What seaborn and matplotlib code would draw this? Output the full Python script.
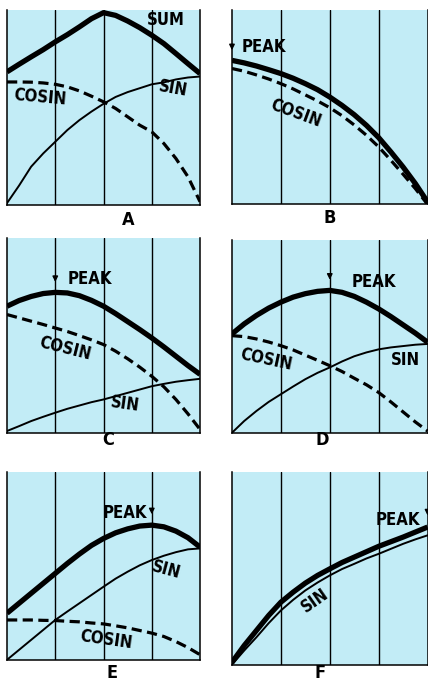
import numpy as np
import pandas as pd
import seaborn as sns
import matplotlib.pyplot as plt

# %%
# values, x in quarter-cycle grid units (0..4), y in panel height (0..1)
xs = [0, 0.25, 0.5, 0.75, 1, 1.25, 1.5, 1.75, 2, 2.25, 2.5, 2.75, 3, 3.25, 3.5, 3.75, 4]

a_sum = [0.684, 0.723, 0.761, 0.798, 0.838, 0.875, 0.915, 0.957, 0.988,
         0.974, 0.945, 0.911, 0.872, 0.829, 0.778, 0.726, 0.675]
a_cos = [0.632, 0.632, 0.631, 0.627, 0.62, 0.607, 0.586, 0.559, 0.53,
         0.496, 0.453, 0.41, 0.376, 0.316, 0.239, 0.145, 0.017]
a_sin = [0.01, 0.10, 0.197, 0.265, 0.325, 0.385, 0.436, 0.48, 0.52,
         0.555, 0.58, 0.60, 0.62, 0.63, 0.645, 0.655, 0.66]

b_sum = [0.742, 0.729, 0.713, 0.694, 0.674, 0.65, 0.622, 0.591, 0.553,
         0.51, 0.462, 0.407, 0.344, 0.27, 0.192, 0.107, 0.012]
b_cos = [0.70, 0.686, 0.667, 0.646, 0.622, 0.595, 0.564, 0.533, 0.498,
         0.457, 0.409, 0.356, 0.296, 0.227, 0.155, 0.081, 0.0]

c_sum = [0.65, 0.679, 0.70, 0.715, 0.721, 0.718, 0.704, 0.68, 0.65,
         0.612, 0.571, 0.53, 0.487, 0.441, 0.393, 0.345, 0.30]
c_cos = [0.607, 0.59, 0.573, 0.556, 0.538, 0.52, 0.499, 0.477, 0.453,
         0.419, 0.38, 0.337, 0.29, 0.236, 0.171, 0.097, 0.017]
c_sin = [0.009, 0.034, 0.06, 0.082, 0.103, 0.123, 0.14, 0.157, 0.171,
         0.188, 0.205, 0.222, 0.239, 0.251, 0.262, 0.27, 0.277]

d_sum = [0.513, 0.565, 0.609, 0.647, 0.678, 0.704, 0.722, 0.734, 0.739,
         0.729, 0.708, 0.678, 0.643, 0.603, 0.56, 0.517, 0.47]
d_cos = [0.504, 0.499, 0.487, 0.471, 0.452, 0.43, 0.403, 0.376, 0.348,
         0.318, 0.283, 0.249, 0.209, 0.16, 0.108, 0.056, 0.009]
d_sin = [0.0, 0.061, 0.113, 0.16, 0.2, 0.24, 0.278, 0.311, 0.339,
         0.37, 0.397, 0.417, 0.433, 0.443, 0.45, 0.457, 0.461]

e_sum = [0.248, 0.301, 0.354, 0.407, 0.46, 0.513, 0.563, 0.609, 0.646,
         0.676, 0.697, 0.712, 0.717, 0.708, 0.685, 0.65, 0.60]
e_sin = [0.0, 0.053, 0.106, 0.159, 0.212, 0.257, 0.301, 0.345, 0.389,
         0.432, 0.469, 0.503, 0.531, 0.554, 0.573, 0.588, 0.593]
e_cos = [0.212, 0.212, 0.212, 0.21, 0.209, 0.205, 0.202, 0.196, 0.191,
         0.181, 0.17, 0.156, 0.142, 0.124, 0.097, 0.065, 0.027]

f_sum = [0.012, 0.099, 0.177, 0.255, 0.324, 0.376, 0.423, 0.463, 0.497,
         0.53, 0.558, 0.586, 0.614, 0.638, 0.662, 0.688, 0.714]
f_sin = [0.0, 0.073, 0.142, 0.215, 0.281, 0.336, 0.385, 0.426, 0.463,
         0.496, 0.523, 0.551, 0.575, 0.601, 0.627, 0.65, 0.671]

panel_names = ['A', 'B', 'C', 'D', 'E', 'F']

# %%
sns.set_style('white')
plt.rcParams['font.family'] = ['DejaVu Sans']
plt.rcParams['font.stretch'] = 'condensed'
plt.rcParams['font.weight'] = 'bold'
plt.rcParams['font.style'] = 'normal'
plt.rcParams['text.color'] = 'black'

bg = '#c2ecf6'
fig = plt.figure(figsize=(4.28, 6.88), dpi=100)

# left, bottom, width, height in figure fractions
boxes = [
    [0.0164, 0.702, 0.451, 0.283],
    [0.542, 0.703, 0.457, 0.282],
    [0.0164, 0.371, 0.451, 0.283],
    [0.542, 0.371, 0.457, 0.280],
    [0.0164, 0.041, 0.451, 0.273],
    [0.542, 0.034, 0.457, 0.280],
]
label_pos = [(0.30, 0.680), (0.771, 0.683), (0.252, 0.360), (0.752, 0.360),
             (0.262, 0.022), (0.747, 0.022)]

axes = [fig.add_axes(b) for b in boxes]

thick = dict(color='black', lw=3.8, solid_capstyle='butt')
thin = dict(color='black', lw=1.4)
dash = dict(color='black', lw=2.3, linestyle=(0, (3.2, 1.7)))
fs = 12

def frame(ax):
    ax.set_facecolor(bg)
    ax.set_xlim(0, 4)
    ax.set_ylim(0, 1)
    for gx in [1, 2, 3]:
        ax.axvline(gx, color='black', lw=1.0, zorder=1)
    ax.set_xticks([])
    ax.set_yticks([])
    ax.set_xlabel('')
    ax.set_ylabel('')
    ax.spines['top'].set_visible(False)
    for s in ['left', 'right', 'bottom']:
        ax.spines[s].set_color('black')
        ax.spines[s].set_linewidth(1.1)

def label(ax, x, y, s, rot=0, ha='center'):
    ax.text(x, y, s, fontsize=fs, ha=ha, va='center', rotation=rot,
            rotation_mode='anchor', color='black')

def peak(ax, x, y_tip, y_text, tx, ha='left'):
    ax.annotate('', xy=(x, y_tip), xytext=(x, y_tip + 0.06),
                arrowprops=dict(arrowstyle='-|>', color='black', lw=1.0,
                                mutation_scale=8),
                annotation_clip=False)
    label(ax, tx, y_text, 'PEAK', ha=ha)

# A
ax = axes[0]
sns.lineplot(x=xs, y=a_cos, ax=ax, **dash)
sns.lineplot(x=xs, y=a_sin, ax=ax, **thin)
sns.lineplot(x=xs, y=a_sum, ax=ax, **thick)
label(ax, 3.3, 0.95, 'SUM')
label(ax, 0.69, 0.555, 'COSIN', -5)
label(ax, 3.45, 0.6, 'SIN', -10)

# B
ax = axes[1]
sns.lineplot(x=xs, y=b_cos, ax=ax, **dash)
sns.lineplot(x=xs, y=b_sum, ax=ax, **thick)
peak(ax, 0, 0.78, 0.81, 0.2)
label(ax, 1.3, 0.47, 'COSIN', -20)

# C
ax = axes[2]
sns.lineplot(x=xs, y=c_cos, ax=ax, **dash)
sns.lineplot(x=xs, y=c_sin, ax=ax, **thin)
sns.lineplot(x=xs, y=c_sum, ax=ax, **thick)
peak(ax, 1, 0.76, 0.79, 1.25)
label(ax, 1.2, 0.43, 'COSIN', -14)
label(ax, 2.45, 0.145, 'SIN', -8)

# D
ax = axes[3]
sns.lineplot(x=xs, y=d_cos, ax=ax, **dash)
sns.lineplot(x=xs, y=d_sin, ax=ax, **thin)
sns.lineplot(x=xs, y=d_sum, ax=ax, **thick)
peak(ax, 2, 0.78, 0.78, 2.45)
label(ax, 0.7, 0.38, 'COSIN', -12)
label(ax, 3.55, 0.38, 'SIN')

# E
ax = axes[4]
sns.lineplot(x=xs, y=e_cos, ax=ax, **dash)
sns.lineplot(x=xs, y=e_sin, ax=ax, **thin)
sns.lineplot(x=xs, y=e_sum, ax=ax, **thick)
peak(ax, 3, 0.76, 0.78, 2.9, ha='right')
label(ax, 3.3, 0.48, 'SIN', -15)
label(ax, 2.05, 0.106, 'COSIN', -8)

# F
ax = axes[5]
sns.lineplot(x=xs, y=f_sin, ax=ax, **thin)
sns.lineplot(x=xs, y=f_sum, ax=ax, **thick)
peak(ax, 4, 0.76, 0.75, 3.85, ha='right')
label(ax, 1.7, 0.33, 'SIN', 35)

for ax in axes:
    frame(ax)

for name, (lx, ly) in zip(panel_names, label_pos):
    fig.text(lx, ly, name, fontsize=13, ha='center', va='center',
             weight='bold', color='black')

fig.savefig('out.png', dpi=100, facecolor='white')
